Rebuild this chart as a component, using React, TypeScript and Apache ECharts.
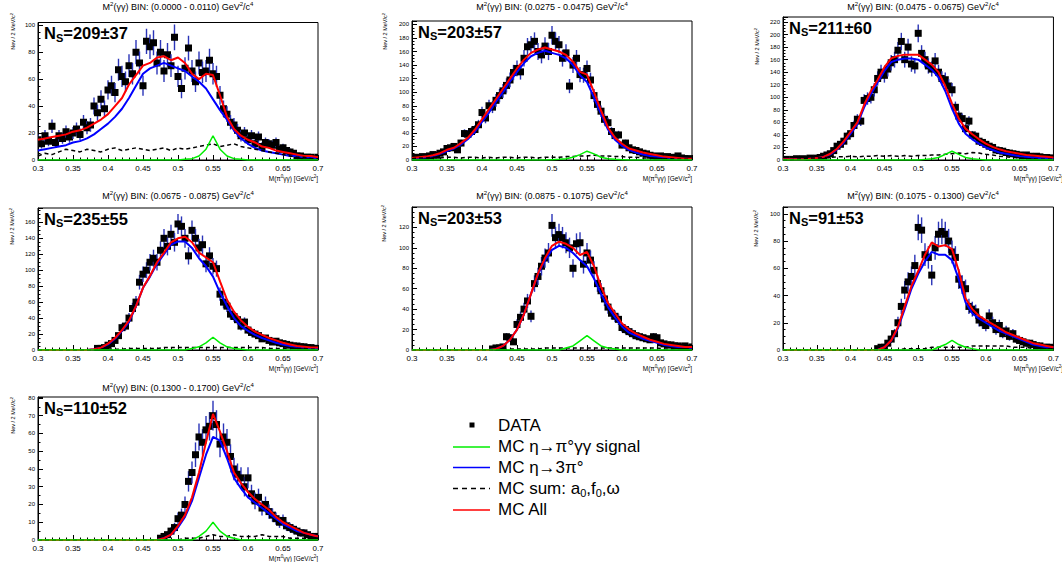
import React, { useEffect, useRef } from "react";
import * as echarts from "echarts";

// ---------- DATA ----------
const X_DATA = [
  0.300, 0.305, 0.310, 0.315, 0.320, 0.325, 0.330, 0.335, 0.340, 0.345,
  0.350, 0.355, 0.360, 0.365, 0.370, 0.375, 0.380, 0.385, 0.390, 0.395,
  0.400, 0.405, 0.410, 0.415, 0.420, 0.425, 0.430, 0.435, 0.440, 0.445,
  0.450, 0.455, 0.460, 0.465, 0.470, 0.475, 0.480, 0.485, 0.490, 0.495,
  0.500, 0.505, 0.510, 0.515, 0.520, 0.525, 0.530, 0.535, 0.540, 0.545,
  0.550, 0.555, 0.560, 0.565, 0.570, 0.575, 0.580, 0.585, 0.590, 0.595,
  0.600, 0.605, 0.610, 0.615, 0.620, 0.625, 0.630, 0.635, 0.640, 0.645,
  0.650, 0.655, 0.660, 0.665, 0.670, 0.675, 0.680, 0.685, 0.690, 0.695,
  0.700,
];
const X_CURVE = [
  0.30, 0.31, 0.32, 0.33, 0.34, 0.35, 0.36, 0.37, 0.38, 0.39,
  0.40, 0.41, 0.42, 0.43, 0.44, 0.45, 0.46, 0.47, 0.48, 0.49,
  0.50, 0.51, 0.52, 0.53, 0.54, 0.55, 0.56, 0.57, 0.58, 0.59,
  0.60, 0.61, 0.62, 0.63, 0.64, 0.65, 0.66, 0.67, 0.68, 0.69,
  0.70,
];

const BIN_LABELS = [
  "(0.0000 - 0.0110)", "(0.0275 - 0.0475)", "(0.0475 - 0.0675)",
  "(0.0675 - 0.0875)", "(0.0875 - 0.1075)", "(0.1075 - 0.1300)",
  "(0.1300 - 0.1700)",
];
const NS_VALUES = ["209±37", "203±57", "211±60", "235±55", "203±53", "91±53", "110±52"];
const Y_MAX = [102, 205, 228, 178, 140, 105, 80.5];
const Y_STEP = [20, 20, 20, 20, 20, 20, 10];
const X_TICKS = { min: 0.3, max: 0.7, step: 0.05 };

// Panel 1
const P1_DATA = [
  15, 12, 18, 14, 25, 13, 18, 16, 21, 17,
  20, 23, 19, 28, 24, 26, 40, 35, 45, 38,
  52, 55, 50, 67, 62, 58, 70, 64, 80, 72,
  55, 88, 84, 87, 72, 80, 66, 78, 70, 91,
  62, 53, 68, 83, 66, 58, 72, 65, 66, 74,
  64, 62, 48, 38, 34, 28, 26, 22, 18, 20,
  15, 18, 12, 17, 10, 13, 12, 11, 13, 8,
  9, 7, 6, 5, 3, 3, 2, 2, 2, 1,
  2,
];
const P1_ALL = [15, 16, 17, 18, 19, 21, 22, 24, 27, 30, 34, 40, 46, 56, 63, 70, 72, 76, 77, 74, 76, 72, 64, 60, 64, 63, 48, 32, 23, 18, 15, 13, 10, 9, 7, 6, 5, 4, 3, 3, 2];
const P1_ETA3PI = [7, 8, 9, 10, 11, 13, 14, 16, 19, 23, 27, 32, 38, 46, 55, 64, 68, 70, 72, 70, 68, 66, 62, 58, 53, 45, 37, 30, 22, 16, 12, 9, 7, 6, 5, 4, 3, 3, 2, 2, 1];
const P1_BKG = [3, 5, 4, 6, 8, 7, 6, 8, 7, 6, 8, 9, 7, 8, 9, 8, 7, 8, 9, 7, 9, 8, 9, 10, 11, 12, 10, 11, 12, 10, 9, 8, 7, 6, 5, 4, 3, 2, 2, 1, 1];
const P1_SIG = [0, 0, 0, 0, 0, 0, 0, 0, 0, 0, 0, 0, 0, 0, 0, 0, 0, 0, 0, 0, 0, 0.5, 1, 3, 8, 18, 8, 3, 1, 0.5, 0, 0, 0, 0, 0, 0, 0, 0, 0, 0, 0];

// Panel 2
const P2_DATA = [
  3, 4, 2, 5, 4, 6, 8, 7, 10, 12,
  17, 18, 20, 15, 25, 39, 38, 42, 45, 52,
  70, 62, 80, 78, 88, 95, 102, 110, 118, 129,
  135, 130, 150, 167, 170, 175, 160, 155, 168, 160,
  184, 175, 170, 150, 158, 109, 140, 150, 126, 125,
  135, 118, 95, 82, 72, 60, 55, 42, 36, 37,
  22, 25, 18, 15, 14, 12, 10, 9, 7, 6,
  5, 6, 4, 5, 3, 4, 6, 3, 2, 2,
  1,
];
const P2_ALL = [3, 4, 5, 7, 10, 15, 18, 25, 33, 45, 60, 75, 90, 105, 120, 135, 148, 158, 163, 166, 163, 160, 155, 145, 130, 126, 100, 73, 48, 33, 24, 17, 14, 11, 9, 7, 5, 4, 3, 2, 2];
const P2_ETA3PI = [2, 3, 4, 6, 9, 13, 17, 23, 31, 42, 56, 70, 86, 100, 116, 130, 143, 153, 158, 161, 158, 155, 150, 140, 125, 115, 92, 68, 45, 30, 21, 15, 11, 8, 6, 5, 4, 3, 2, 2, 1];
const P2_BKG = [2, 3, 3, 4, 3, 4, 4, 3, 4, 4, 3, 4, 3, 4, 4, 3, 4, 4, 3, 4, 4, 4, 5, 5, 6, 6, 7, 6, 6, 5, 5, 4, 4, 3, 3, 2, 2, 2, 1, 1, 1];
const P2_SIG = [0, 0, 0, 0, 0, 0, 0, 0, 0, 0, 0, 0, 0, 0, 0, 0, 0, 0, 0, 0, 0.5, 1, 2, 4, 8, 13, 9, 4, 2, 1, 0.5, 0, 0, 0, 0, 0, 0, 0, 0, 0, 0];

// Panel 3
const P3_DATA = [
  0, 1, 0, 1, 2, 1, 2, 1, 3, 2,
  3, 4, 6, 8, 10, 15, 22, 25, 30, 38,
  42, 55, 65, 62, 95, 98, 100, 112, 130, 140,
  135, 145, 155, 160, 175, 189, 160, 180, 153, 150,
  202, 170, 160, 150, 145, 158, 140, 130, 128, 118,
  112, 84, 70, 66, 50, 62, 40, 38, 30, 28,
  25, 22, 20, 16, 15, 14, 12, 11, 10, 9,
  8, 7, 8, 6, 5, 6, 5, 4, 4, 3,
  3,
];
const P3_ALL = [1, 1, 1, 1, 2, 3, 5, 10, 18, 30, 45, 60, 88, 110, 128, 148, 162, 166, 168, 168, 168, 160, 152, 140, 118, 90, 66, 50, 41, 33, 26, 21, 17, 14, 12, 10, 8, 7, 6, 5, 4];
const P3_ETA3PI = [1, 1, 1, 1, 2, 3, 5, 9, 17, 28, 42, 57, 84, 105, 124, 142, 156, 160, 162, 162, 160, 152, 144, 132, 110, 82, 58, 42, 33, 26, 20, 16, 12, 10, 8, 6, 5, 4, 3, 3, 2];
const P3_BKG = [0, 0, 1, 2, 3, 3, 4, 4, 5, 5, 6, 5, 6, 6, 7, 6, 7, 6, 7, 6, 7, 7, 8, 8, 9, 10, 11, 10, 12, 11, 9, 8, 6, 5, 4, 3, 2, 2, 1, 1, 1];
const P3_SIG = [0, 0, 0, 0, 0, 0, 0, 0, 0, 0, 0, 0, 0, 0, 0, 0, 0, 0, 0, 0, 0, 1, 2, 4, 9, 14, 9, 4, 2, 1, 0, 0, 0, 0, 0, 0, 0, 0, 0, 0, 0];

// Panel 4
const P4_DATA = [
  0, 0, 0, 0, 0, 0, 0, 0, 0, 0,
  0, 0, 0, 0, 0, 0, 0, 2, 2, 3,
  6, 8, 12, 18, 28, 30, 40, 52, 60, 85,
  95, 100, 110, 115, 110, 125, 140, 130, 145, 135,
  158, 155, 140, 118, 150, 140, 128, 132, 108, 118,
  105, 102, 70, 60, 55, 45, 42, 38, 30, 35,
  25, 22, 20, 18, 14, 15, 12, 10, 11, 9,
  8, 7, 6, 5, 5, 4, 4, 3, 3, 2,
  2,
];
const P4_ALL = [0, 0, 0, 0, 0, 0, 0, 0, 1, 3, 8, 15, 25, 37, 55, 78, 93, 110, 122, 135, 140, 142, 135, 122, 116, 110, 86, 63, 48, 37, 29, 23, 19, 15, 12, 9, 7, 5, 4, 3, 3];
const P4_ETA3PI = [0, 0, 0, 0, 0, 0, 0, 0, 1, 3, 7, 14, 24, 35, 55, 78, 92, 108, 120, 132, 136, 136, 128, 115, 105, 92, 72, 55, 40, 30, 24, 19, 15, 12, 9, 7, 5, 4, 3, 2, 2];
const P4_BKG = [0, 0, 0, 0, 0, 0, 0, 0, 0, 1, 1, 1, 1, 2, 2, 2, 2, 2, 3, 3, 3, 3, 3, 3, 3, 3, 3, 3, 3, 3, 3, 3, 3, 2, 2, 2, 2, 2, 2, 1, 1];
const P4_SIG = [0, 0, 0, 0, 0, 0, 0, 0, 0, 0, 0, 0, 0, 0, 0, 0, 0, 0, 0, 0, 0, 0, 2, 4, 9, 16, 9, 4, 2, 1, 0, 0, 0, 0, 0, 0, 0, 0, 0, 0, 0];

// Panel 5
const P5_DATA = [
  0, 0, 0, 0, 0, 0, 0, 0, 0, 0,
  0, 0, 0, 0, 0, 0, 0, 0, 0, 0,
  0, 0, 0, 1, 2, 2, 3, 13, 12, 8,
  25, 32, 40, 48, 33, 65, 72, 82, 90, 95,
  122, 110, 113, 110, 105, 100, 80, 104, 105, 84,
  95, 88, 78, 65, 58, 50, 42, 36, 33, 30,
  22, 20, 18, 16, 14, 13, 12, 11, 10, 13,
  12, 7, 6, 5, 5, 4, 4, 3, 4, 2,
  3,
];
const P5_ALL = [0, 0, 0, 0, 0, 0, 0, 0, 0, 0, 0, 0, 1, 4, 10, 20, 35, 55, 75, 90, 102, 106, 104, 100, 93, 96, 82, 62, 46, 36, 26, 20, 16, 13, 10, 8, 6, 5, 4, 3, 3];
const P5_ETA3PI = [0, 0, 0, 0, 0, 0, 0, 0, 0, 0, 0, 0, 1, 4, 10, 20, 35, 55, 74, 88, 98, 102, 100, 95, 88, 82, 70, 55, 42, 32, 23, 17, 14, 11, 9, 7, 5, 4, 3, 3, 2];
const P5_BKG = [0, 0, 0, 0, 0, 0, 0, 0, 0, 0, 0, 0, 0, 0, 1, 1, 1, 1, 1, 2, 2, 2, 2, 2, 2, 2, 2, 2, 2, 2, 2, 2, 2, 2, 2, 2, 1, 1, 1, 1, 1];
const P5_SIG = [0, 0, 0, 0, 0, 0, 0, 0, 0, 0, 0, 0, 0, 0, 0, 0, 0, 0, 0, 0, 0, 0, 2, 4, 9, 14, 9, 4, 2, 1, 0, 0, 0, 0, 0, 0, 0, 0, 0, 0, 0];

// Panel 6
const P6_DATA = [
  0, 0, 0, 0, 0, 0, 0, 0, 0, 0,
  0, 0, 0, 0, 0, 0, 0, 0, 0, 0,
  0, 0, 0, 0, 0, 0, 0, 0, 1, 2,
  2, 5, 8, 12, 20, 32, 44, 50, 54, 62,
  90, 88, 70, 68, 55, 75, 85, 87, 85, 80,
  72, 68, 52, 48, 45, 32, 30, 28, 22, 20,
  18, 25, 20, 15, 18, 12, 14, 10, 12, 8,
  7, 6, 5, 5, 4, 3, 3, 2, 2, 2,
  1,
];
const P6_ALL = [0, 0, 0, 0, 0, 0, 0, 0, 0, 0, 0, 0, 0, 0, 0, 2, 7, 17, 32, 47, 58, 70, 79, 76, 77, 74, 58, 38, 30, 25, 22, 19, 16, 13, 11, 9, 7, 5, 4, 3, 2];
const P6_ETA3PI = [0, 0, 0, 0, 0, 0, 0, 0, 0, 0, 0, 0, 0, 0, 0, 2, 7, 16, 30, 45, 56, 65, 72, 70, 70, 66, 52, 35, 27, 23, 20, 17, 14, 12, 10, 8, 6, 4, 3, 2, 2];
const P6_BKG = [0, 0, 0, 0, 0, 0, 0, 0, 0, 0, 0, 0, 0, 0, 0, 0, 0, 0, 1, 1, 1, 1, 2, 2, 2, 2, 2, 2, 3, 3, 3, 3, 3, 3, 2, 2, 2, 1, 1, 1, 1];
const P6_SIG = [0, 0, 0, 0, 0, 0, 0, 0, 0, 0, 0, 0, 0, 0, 0, 0, 0, 0, 0, 0, 0, 0, 0, 2, 4, 7, 4, 2, 1, 0, 0, 0, 0, 0, 0, 0, 0, 0, 0, 0, 0];

// Panel 7
const P7_DATA = [
  0, 0, 0, 0, 0, 0, 0, 0, 0, 0,
  0, 0, 0, 0, 0, 0, 0, 0, 0, 0,
  0, 0, 0, 0, 0, 0, 0, 0, 0, 0,
  0, 0, 0, 0, 0, 1, 2, 3, 5, 7,
  12, 14, 20, 33, 38, 48, 58, 55, 62, 64,
  70, 65, 54, 58, 55, 47, 40, 37, 35, 30,
  35, 26, 22, 24, 18, 20, 16, 14, 12, 10,
  11, 8, 7, 6, 5, 4, 4, 3, 2, 2,
  2,
];
const P7_ALL = [0, 0, 0, 0, 0, 0, 0, 0, 0, 0, 0, 0, 0, 0, 0, 0, 0, 0, 1, 3, 8, 14, 24, 38, 55, 71, 61, 50, 38, 32, 27, 23, 20, 17, 13, 10, 8, 6, 4, 3, 2];
const P7_ETA3PI = [0, 0, 0, 0, 0, 0, 0, 0, 0, 0, 0, 0, 0, 0, 0, 0, 0, 0, 1, 3, 7, 13, 22, 35, 48, 58, 56, 46, 35, 29, 24, 21, 18, 15, 12, 9, 7, 5, 4, 3, 2];
const P7_BKG = [0, 0, 0, 0, 0, 0, 0, 0, 0, 0, 0, 0, 0, 0, 0, 0, 0, 0, 0, 0, 0, 1, 1, 1, 2, 3, 2, 2, 3, 2, 2, 2, 3, 2, 2, 2, 1, 1, 1, 1, 1];
const P7_SIG = [0, 0, 0, 0, 0, 0, 0, 0, 0, 0, 0, 0, 0, 0, 0, 0, 0, 0, 0, 0, 0, 0, 0, 2, 5, 10, 5, 2, 1, 0, 0, 0, 0, 0, 0, 0, 0, 0, 0, 0, 0];

const PANELS = [
  { data: P1_DATA, all: P1_ALL, eta3pi: P1_ETA3PI, bkg: P1_BKG, sig: P1_SIG },
  { data: P2_DATA, all: P2_ALL, eta3pi: P2_ETA3PI, bkg: P2_BKG, sig: P2_SIG },
  { data: P3_DATA, all: P3_ALL, eta3pi: P3_ETA3PI, bkg: P3_BKG, sig: P3_SIG },
  { data: P4_DATA, all: P4_ALL, eta3pi: P4_ETA3PI, bkg: P4_BKG, sig: P4_SIG },
  { data: P5_DATA, all: P5_ALL, eta3pi: P5_ETA3PI, bkg: P5_BKG, sig: P5_SIG },
  { data: P6_DATA, all: P6_ALL, eta3pi: P6_ETA3PI, bkg: P6_BKG, sig: P6_SIG },
  { data: P7_DATA, all: P7_ALL, eta3pi: P7_ETA3PI, bkg: P7_BKG, sig: P7_SIG },
];

// ---------- LAYOUT / STYLE ----------
const LAYOUT = [
  { left: 38, top: 22.5, width: 280, height: 137.5, titleY: 7, yNameX: 13, yNameY: 13 },
  { left: 412, top: 21, width: 280, height: 139, titleY: 7, yNameX: 385, yNameY: 13 },
  { left: 783, top: 17, width: 280, height: 143, titleY: 7, yNameX: 757, yNameY: 28 },
  { left: 38, top: 208, width: 280, height: 142, titleY: 196, yNameX: 12, yNameY: 208 },
  { left: 412, top: 207, width: 280, height: 143, titleY: 196, yNameX: 384, yNameY: 205 },
  { left: 783, top: 207, width: 280, height: 143, titleY: 196, yNameX: 756, yNameY: 210 },
  { left: 38, top: 397, width: 280, height: 143, titleY: 388, yNameX: 13, yNameY: 397 },
];
const FONT = "'Liberation Sans', Arial, Helvetica, sans-serif";
const C_RED = "#ff0000";
const C_BLUE = "#0000ff";
const C_GREEN = "#00ee00";
const C_ERR = "#2a34b8";

function textEl(x: number, y: number, text: string, rich: any, extra: any = {}) {
  return {
    type: "text",
    x,
    y,
    silent: true,
    ...extra,
    style: {
      text,
      rich,
      fill: "#000",
      fontFamily: FONT,
      align: extra.align || "left",
      textAlign: extra.align || "left",
      verticalAlign: extra.verticalAlign || "middle",
      textVerticalAlign: extra.verticalAlign || "middle",
    },
  };
}

function buildOption() {
  const grid: any[] = [];
  const xAxis: any[] = [];
  const yAxis: any[] = [];
  const series: any[] = [];
  const graphic: any[] = [];

  PANELS.forEach((p, i) => {
    const L = LAYOUT[i];
    grid.push({
      left: L.left,
      top: L.top,
      width: L.width,
      height: L.height,
      show: true,
      borderColor: "#000",
      borderWidth: 1,
      backgroundColor: "transparent",
    });
    xAxis.push({
      type: "value",
      gridIndex: i,
      min: X_TICKS.min,
      max: X_TICKS.max,
      interval: X_TICKS.step,
      axisLine: { show: true, onZero: false, lineStyle: { color: "#000", width: 1 } },
      axisTick: { show: true, inside: true, length: 5, lineStyle: { color: "#000" } },
      minorTick: { show: true, splitNumber: 5, length: 2.5, lineStyle: { color: "#000" } },
      splitLine: { show: false },
      axisLabel: {
        color: "#000",
        fontSize: 8,
        fontFamily: FONT,
        margin: 4,
        formatter: (v: number) => String(+v.toFixed(2)),
      },
    });
    yAxis.push({
      type: "value",
      gridIndex: i,
      min: 0,
      max: Y_MAX[i],
      interval: Y_STEP[i],
      axisLine: { show: true, lineStyle: { color: "#000", width: 1 } },
      axisTick: { show: true, inside: true, length: 5, lineStyle: { color: "#000" } },
      minorTick: { show: true, splitNumber: Y_STEP[i] === 10 ? 2 : 4, length: 2.5, lineStyle: { color: "#000" } },
      splitLine: { show: false },
      axisLabel: { color: "#000", fontSize: 6, fontFamily: FONT, margin: 3, showMaxLabel: false },
    });

    series.push({
      type: "custom",
      name: "DATA",
      xAxisIndex: i,
      yAxisIndex: i,
      clip: true,
      z: 2,
      data: X_DATA.map((x, k) => [x, p.data[k]]),
      renderItem: (_params: any, api: any) => {
        const x = api.value(0);
        const y = api.value(1);
        if (!(y > 0)) return { type: "group", children: [] };
        const e = Math.sqrt(y);
        const c = api.coord([x, y]);
        const lo = api.coord([x, Math.max(0, y - e)]);
        const hi = api.coord([x, y + e]);
        return {
          type: "group",
          children: [
            { type: "line", shape: { x1: c[0], y1: lo[1], x2: c[0], y2: hi[1] }, style: { stroke: C_ERR, lineWidth: 1.4 } },
            { type: "rect", shape: { x: c[0] - 3.5, y: c[1] - 3.5, width: 7, height: 7 }, style: { fill: "#000" } },
          ],
        };
      },
    });
    const line = (name: string, arr: number[], color: string, width: number, z: number, type: any = "solid") => ({
      type: "line",
      name,
      xAxisIndex: i,
      yAxisIndex: i,
      data: X_CURVE.map((x, k) => [x, arr[k]]),
      showSymbol: false,
      symbol: "none",
      z,
      lineStyle: { color, width, type },
      itemStyle: { color },
    });
    series.push(line("MC eta3pi", p.eta3pi, C_BLUE, 2, 3));
    series.push(line("MC All", p.all, C_RED, 2, 4));
    series.push(line("MC sum", p.bkg, "#000", 1.5, 5, [4, 3]));
    series.push(line("MC signal", p.sig, C_GREEN, 1.5, 5));

    // title
    graphic.push(
      textEl(
        L.left + L.width / 2,
        L.titleY,
        `{t|M}{sp|2}{t|(γγ) BIN: ${BIN_LABELS[i]} GeV}{sp|2}{t|/c}{sp|4}`,
        {
          t: { fontSize: 9, lineHeight: 12, fontFamily: FONT, fill: "#000" },
          sp: { fontSize: 6, lineHeight: 6, verticalAlign: "top", fontFamily: FONT, fill: "#000" },
        },
        { align: "center" }
      )
    );
    // Ns label
    graphic.push(
      textEl(
        L.left + 6,
        L.top + 0.5,
        `{n|N}{s|S}{n|=${NS_VALUES[i]}}`,
        {
          n: { fontSize: 16.5, fontWeight: "bold", lineHeight: 20, fontFamily: FONT, fill: "#000" },
          s: { fontSize: 11, fontWeight: "bold", lineHeight: 10, verticalAlign: "bottom", fontFamily: FONT, fill: "#000" },
        },
        { verticalAlign: "top" }
      )
    );
    // x axis name
    graphic.push(
      textEl(
        L.left + L.width,
        L.top + L.height + 18,
        `{t|M(π}{sp|0}{t|γγ) [GeV/c}{sp|2}{t|]}`,
        {
          t: { fontSize: 6.5, lineHeight: 8, fontFamily: FONT, fill: "#000" },
          sp: { fontSize: 4.5, lineHeight: 4, verticalAlign: "top", fontFamily: FONT, fill: "#000" },
        },
        { align: "right" }
      )
    );
    // y axis name
    graphic.push(
      textEl(
        L.yNameX,
        L.yNameY,
        `{t|Nev / 2 MeV/c}{sp|2}`,
        {
          t: { fontSize: 5.5, lineHeight: 8, fontFamily: FONT, fill: "#000" },
          sp: { fontSize: 4, lineHeight: 4, verticalAlign: "top", fontFamily: FONT, fill: "#000" },
        },
        { align: "right", rotation: Math.PI / 2 }
      )
    );
  });

  // legend
  const LX0 = 453, LX1 = 490, TX = 498;
  const legRich = {
    t: { fontSize: 17, lineHeight: 20, fontFamily: FONT, fill: "#000" },
    sb: { fontSize: 11, lineHeight: 10, verticalAlign: "bottom", fontFamily: FONT, fill: "#000" },
  };
  graphic.push({ type: "rect", silent: true, shape: { x: 469.5, y: 422.5, width: 5, height: 5 }, style: { fill: "#000" } });
  graphic.push(textEl(TX, 425, "{t|DATA}", legRich));
  const legLines = [
    { y: 447, color: C_GREEN, dash: null, text: "{t|MC η→π°γγ signal}" },
    { y: 467.5, color: C_BLUE, dash: null, text: "{t|MC η→3π°}" },
    { y: 488.5, color: "#000", dash: [5, 4], text: "{t|MC sum: a}{sb|0}{t|,f}{sb|0}{t|,ω}" },
    { y: 510, color: C_RED, dash: null, text: "{t|MC All}" },
  ];
  legLines.forEach((l) => {
    graphic.push({
      type: "line",
      silent: true,
      shape: { x1: LX0, y1: l.y, x2: LX1, y2: l.y },
      style: { stroke: l.color, lineWidth: 1.3, lineDash: l.dash || undefined },
    });
    graphic.push(textEl(TX, l.y - 0.5, l.text, legRich));
  });

  return {
    animation: false,
    backgroundColor: "#fff",
    grid,
    xAxis,
    yAxis,
    series,
    graphic: { elements: graphic },
  };
}

export default function App() {
  const ref = useRef<HTMLDivElement>(null);
  useEffect(() => {
    if (!ref.current) return;
    const chart = echarts.init(ref.current, null, { renderer: "svg" });
    chart.setOption(buildOption() as any);
    return () => chart.dispose();
  }, []);
  return (
    <div
      ref={ref}
      style={{ position: "absolute", left: 0, top: 0, width: 1062, height: 562, background: "#fff" }}
    />
  );
}
